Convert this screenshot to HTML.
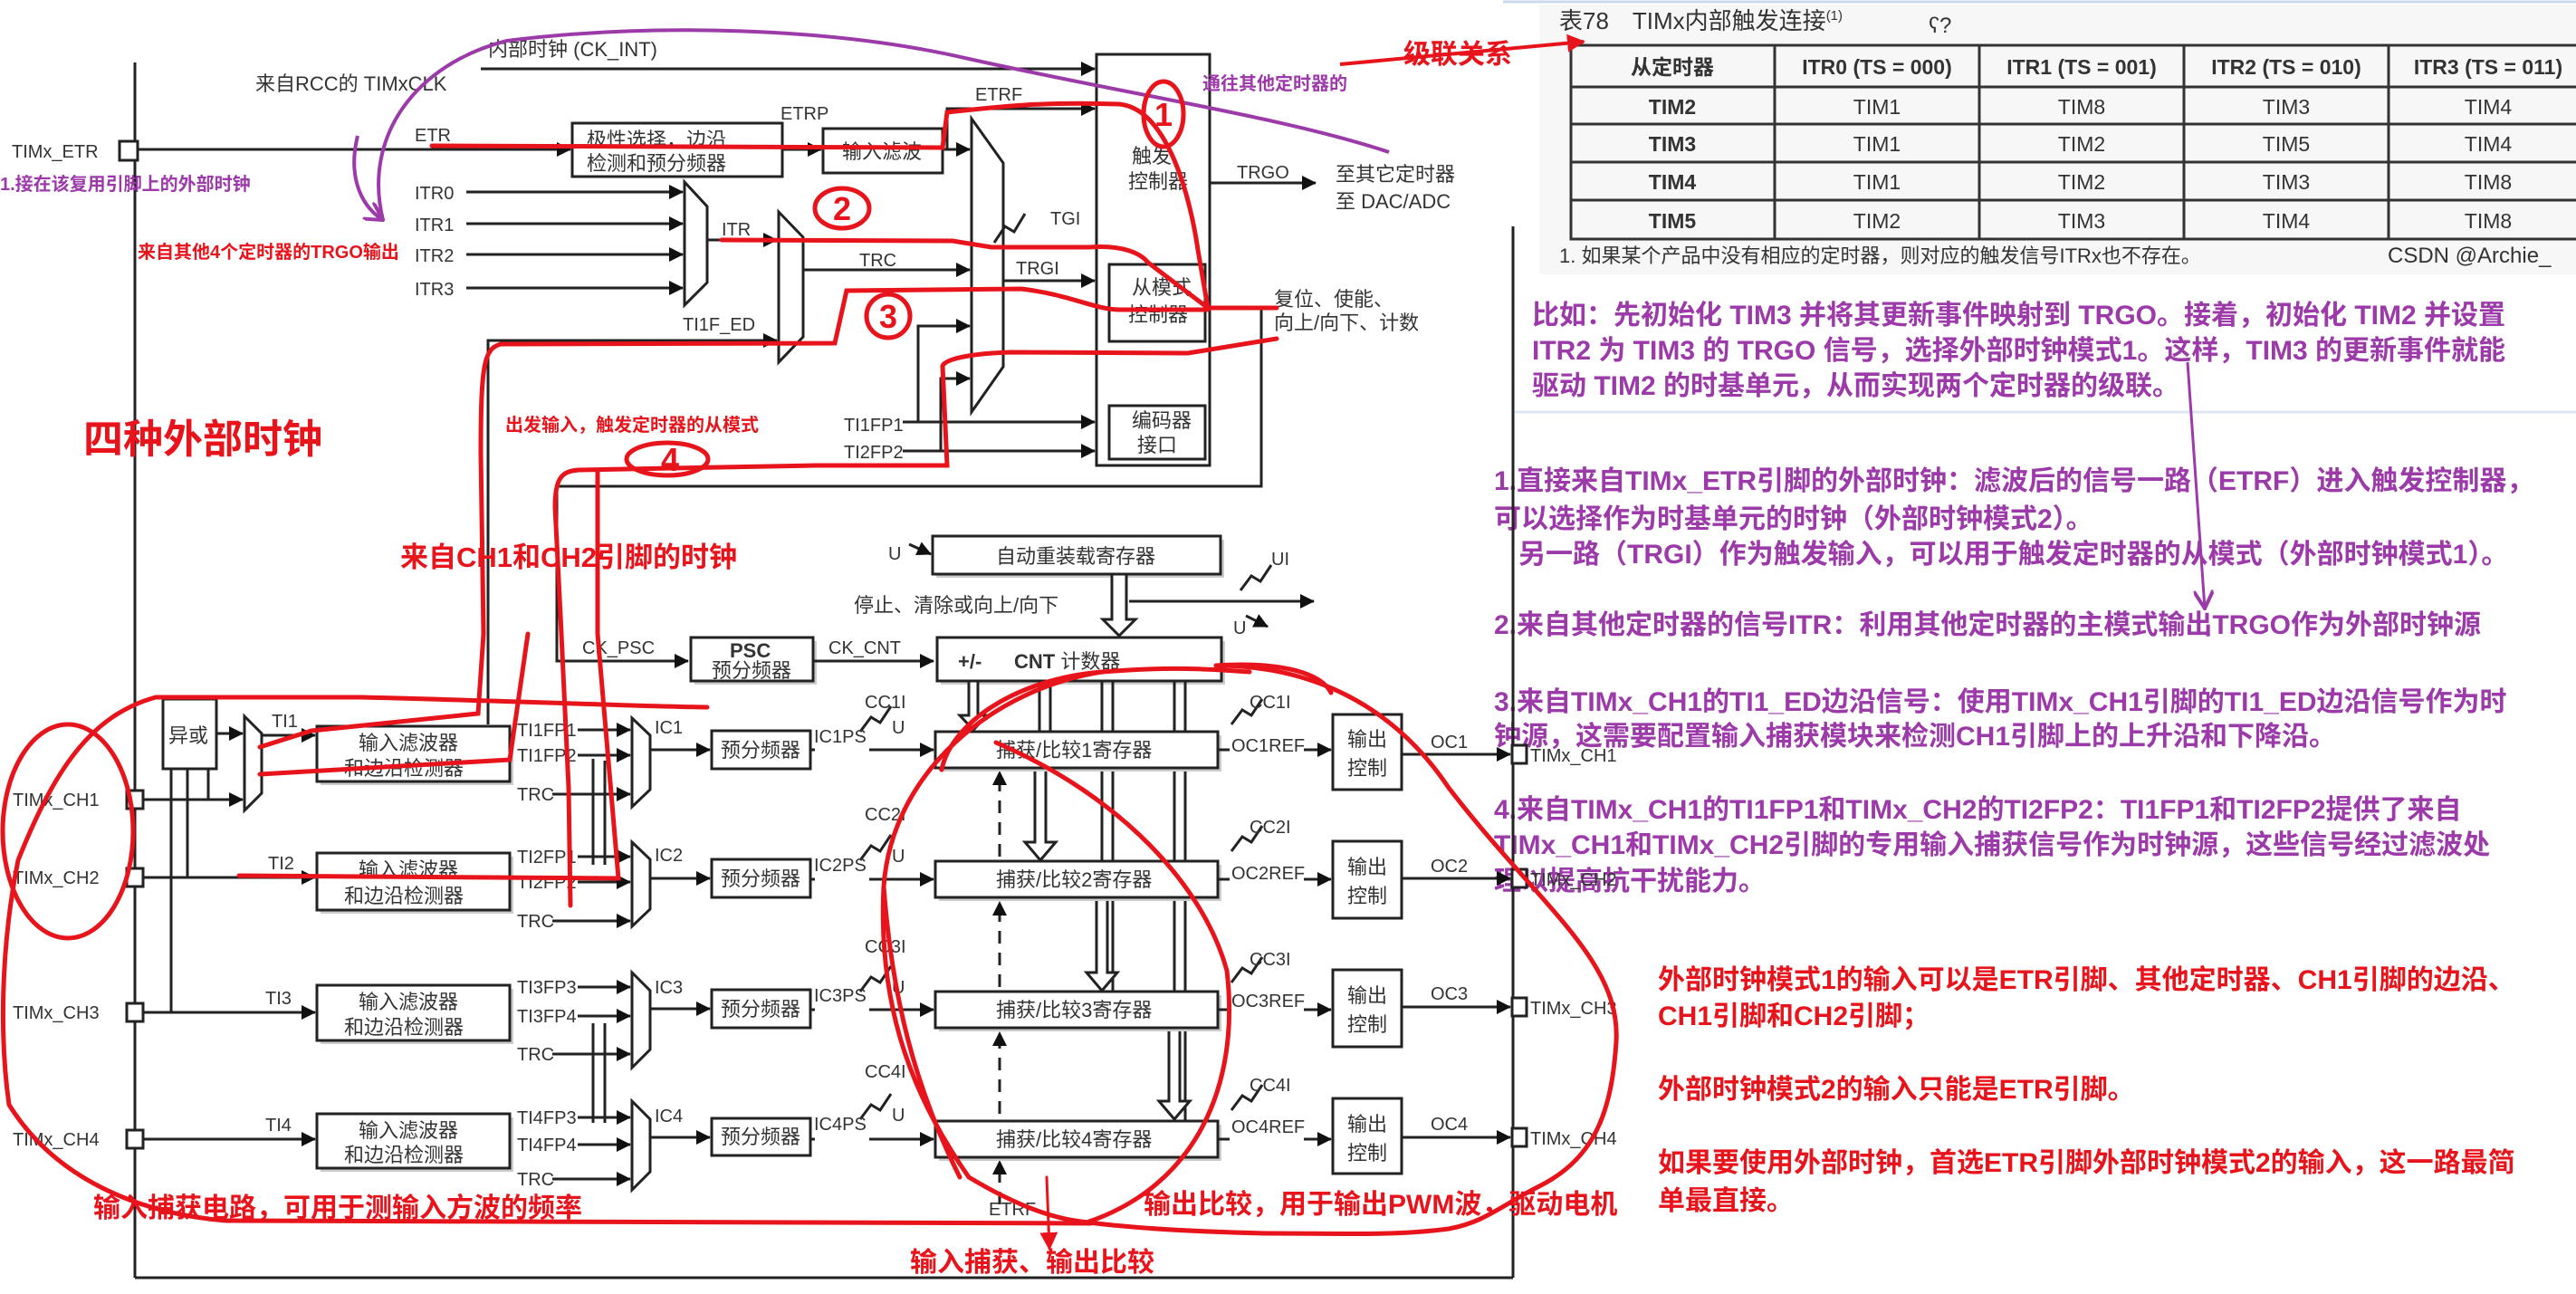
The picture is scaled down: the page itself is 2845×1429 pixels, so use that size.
<!DOCTYPE html>
<html><head><meta charset="utf-8"><style>
html,body{margin:0;padding:0;background:#fff;}
svg{display:block;}
.t{font-family:"Liberation Sans","Noto Sans CJK SC",sans-serif;fill:#333;}
.s{font-size:20px;}
.b{font-size:22px;}
.p{font-family:"Liberation Sans","Noto Sans CJK SC",sans-serif;fill:#9b3aa8;font-weight:bold;}
.r{font-family:"Liberation Sans","Noto Sans CJK SC",sans-serif;fill:#e8141c;font-weight:bold;}
</style></head><body>
<svg width="2845" height="1429" viewBox="0 0 2845 1429" xmlns="http://www.w3.org/2000/svg">
<defs>
<marker id="a" markerUnits="userSpaceOnUse" markerWidth="16" markerHeight="16" refX="15" refY="8" orient="auto"><path d="M0,0 L16,8 L0,16 z" fill="#111"/></marker>
<marker id="pa" markerUnits="userSpaceOnUse" markerWidth="22" markerHeight="22" refX="20" refY="11" orient="auto"><path d="M0,0 L20,11 L0,22" fill="none" stroke="#9b3aa8" stroke-width="4"/></marker>
<marker id="ra" markerUnits="userSpaceOnUse" markerWidth="20" markerHeight="20" refX="18" refY="10" orient="auto"><path d="M0,0 L20,10 L0,20 z" fill="#e8141c"/></marker>
</defs>
<rect width="2845" height="1429" fill="#fff"/>

<!-- right panel table -->
<rect x="1700" y="5" width="1145" height="298" fill="#f7f7f7"/>
<line x1="1660" y1="2" x2="2845" y2="2" stroke="#c9d8ec" stroke-width="3"/>
<line x1="1673" y1="455" x2="2845" y2="455" stroke="#dde6f0" stroke-width="3"/>
<text class="t" x="1722" y="32" font-size="26">表78　TIMx内部触发连接<tspan font-size="15" dy="-10">(1)</tspan></text>
<text class="t" x="2130" y="36" font-size="24">ʕ?</text>
<g stroke="#333" stroke-width="3" fill="none">
<rect x="1735" y="50" width="1115" height="214"/>
<line x1="1735" y1="96" x2="2845" y2="96"/><line x1="1735" y1="137" x2="2845" y2="137"/><line x1="1735" y1="179" x2="2845" y2="179"/><line x1="1735" y1="221" x2="2845" y2="221"/>
<line x1="1960" y1="50" x2="1960" y2="264"/><line x1="2186" y1="50" x2="2186" y2="264"/><line x1="2412" y1="50" x2="2412" y2="264"/><line x1="2638" y1="50" x2="2638" y2="264"/>
</g>
<g class="t" font-size="23" text-anchor="middle" font-weight="bold" fill="#222">
<text x="1847" y="82">从定时器</text><text x="2073" y="82">ITR0 (TS = 000)</text><text x="2299" y="82">ITR1 (TS = 001)</text><text x="2525" y="82">ITR2 (TS = 010)</text><text x="2748" y="82">ITR3 (TS = 011)</text>
<text x="1847" y="126">TIM2</text><text x="1847" y="167">TIM3</text><text x="1847" y="209">TIM4</text><text x="1847" y="252">TIM5</text>
</g>
<g class="t" font-size="23" text-anchor="middle" fill="#222">
<text x="2073" y="126">TIM1</text><text x="2299" y="126">TIM8</text><text x="2525" y="126">TIM3</text><text x="2748" y="126">TIM4</text>
<text x="2073" y="167">TIM1</text><text x="2299" y="167">TIM2</text><text x="2525" y="167">TIM5</text><text x="2748" y="167">TIM4</text>
<text x="2073" y="209">TIM1</text><text x="2299" y="209">TIM2</text><text x="2525" y="209">TIM3</text><text x="2748" y="209">TIM8</text>
<text x="2073" y="252">TIM2</text><text x="2299" y="252">TIM3</text><text x="2525" y="252">TIM4</text><text x="2748" y="252">TIM8</text>
</g>
<text class="t" x="1722" y="290" font-size="22">1. 如果某个产品中没有相应的定时器，则对应的触发信号ITRx也不存在。</text>
<text class="t" x="2637" y="290" font-size="24" fill="#aaa">CSDN @Archie_</text>

<g class="p" font-size="30">
<text x="1692" y="358">比如：先初始化 TIM3 并将其更新事件映射到 TRGO。接着，初始化 TIM2 并设置</text>
<text x="1692" y="397">ITR2 为 TIM3 的 TRGO 信号，选择外部时钟模式1。这样，TIM3 的更新事件就能</text>
<text x="1692" y="436">驱动 TIM2 的时基单元，从而实现两个定时器的级联。</text>
</g>
<line x1="2416" y1="400" x2="2435" y2="672" stroke="#9b3aa8" stroke-width="3" marker-end="url(#pa)"/>
<g class="p" font-size="30">
<text x="1650" y="541">1.直接来自TIMx_ETR引脚的外部时钟：滤波后的信号一路（ETRF）进入触发控制器，</text>
<text x="1650" y="583">可以选择作为时基单元的时钟（外部时钟模式2）。</text>
<text x="1677" y="622">另一路（TRGI）作为触发输入，可以用于触发定时器的从模式（外部时钟模式1）。</text>
<text x="1650" y="700">2.来自其他定时器的信号ITR：利用其他定时器的主模式输出TRGO作为外部时钟源</text>
<text x="1650" y="785">3.来自TIMx_CH1的TI1_ED边沿信号：使用TIMx_CH1引脚的TI1_ED边沿信号作为时</text>
<text x="1650" y="823">钟源，这需要配置输入捕获模块来检测CH1引脚上的上升沿和下降沿。</text>
<text x="1650" y="904">4.来自TIMx_CH1的TI1FP1和TIMx_CH2的TI2FP2：TI1FP1和TI2FP2提供了来自</text>
<text x="1650" y="943">TIMx_CH1和TIMx_CH2引脚的专用输入捕获信号作为时钟源，这些信号经过滤波处</text>
<text x="1650" y="983">理以提高抗干扰能力。</text>
</g>
<g class="r" font-size="30">
<text x="1831" y="1092">外部时钟模式1的输入可以是ETR引脚、其他定时器、CH1引脚的边沿、</text>
<text x="1831" y="1132">CH1引脚和CH2引脚；</text>
<text x="1831" y="1213">外部时钟模式2的输入只能是ETR引脚。</text>
<text x="1831" y="1294">如果要使用外部时钟，首选ETR引脚外部时钟模式2的输入，这一路最简</text>
<text x="1831" y="1336">单最直接。</text>
</g>

<!-- diagram frame -->
<g stroke="#222" stroke-width="3" fill="none">
<line x1="149" y1="69" x2="149" y2="1411"/>
<line x1="149" y1="1411" x2="1671" y2="1411"/>
<line x1="1671" y1="250" x2="1671" y2="1411"/>
</g>

<!-- top section -->
<g stroke="#222" stroke-width="3" fill="none">
<line x1="531" y1="76" x2="1209" y2="76" marker-end="url(#a)"/>
<rect x="1211" y="60" width="125" height="454"/>
<rect x="1225" y="292" width="106" height="85"/>
<rect x="1225" y="448" width="106" height="59"/>
<rect x="132" y="156" width="20" height="21" fill="#fff"/>
<line x1="152" y1="165" x2="630" y2="165" marker-end="url(#a)"/>
<rect x="632" y="136" width="232" height="59"/>
<line x1="864" y1="165" x2="907" y2="165" marker-end="url(#a)"/>
<rect x="909" y="142" width="132" height="49"/>
<polyline points="1041,165 1046,165 1046,120 1209,120" marker-end="url(#a)"/>
<line x1="1041" y1="165" x2="1071" y2="165" marker-end="url(#a)"/>
<polygon points="1073,131 1108,180 1108,405 1073,455"/>
<line x1="515" y1="212" x2="754" y2="212" marker-end="url(#a)"/>
<line x1="515" y1="247" x2="754" y2="247" marker-end="url(#a)"/>
<line x1="515" y1="281" x2="754" y2="281" marker-end="url(#a)"/>
<line x1="515" y1="318" x2="754" y2="318" marker-end="url(#a)"/>
<polygon points="756,201 781,228 781,312 756,337"/>
<line x1="781" y1="265" x2="858" y2="265" marker-end="url(#a)"/>
<polygon points="860,234 887,262 887,372 860,400"/>
<line x1="887" y1="298" x2="1071" y2="298" marker-end="url(#a)"/>
<line x1="1108" y1="310" x2="1209" y2="310" marker-end="url(#a)"/>
<polyline points="1098,268 1110,250 1120,256 1132,236"/>
<polyline points="539,800 539,376 858,376" marker-end="url(#a)"/>
<polyline points="1014,466 1014,360 1071,360" marker-end="url(#a)"/>
<polyline points="1039,498 1039,418 1071,418" marker-end="url(#a)"/>
<line x1="997" y1="466" x2="1209" y2="466" marker-end="url(#a)"/>
<line x1="997" y1="498" x2="1209" y2="498" marker-end="url(#a)"/>
<line x1="1336" y1="202" x2="1453" y2="202" marker-end="url(#a)"/>
<polyline points="1331,340 1393,340 1393,537 615,537 615,730 760,730" marker-end="url(#a)"/>
</g>
<g class="t s">
<text x="539" y="62" font-size="22">内部时钟 (CK_INT)</text>
<text x="282" y="100" font-size="22">来自RCC的 TIMxCLK</text>
<text x="13" y="174">TIMx_ETR</text>
<text x="458" y="156">ETR</text>
<text x="862" y="132">ETRP</text>
<text x="1077" y="111">ETRF</text>
<text x="458" y="220">ITR0</text><text x="458" y="255">ITR1</text><text x="458" y="289">ITR2</text><text x="458" y="326">ITR3</text>
<text x="797" y="260">ITR</text>
<text x="949" y="294">TRC</text>
<text x="1160" y="248">TGI</text>
<text x="1122" y="303">TRGI</text>
<text x="754" y="365">TI1F_ED</text>
<text x="932" y="476">TI1FP1</text><text x="932" y="506">TI2FP2</text>
<text x="1366" y="197">TRGO</text>
</g>
<g class="t b">
<text x="648" y="162">极性选择，边沿</text><text x="648" y="188">检测和预分频器</text>
<text x="930" y="175">输入滤波</text>
<text x="1250" y="180">触发</text><text x="1246" y="208">控制器</text>
<text x="1250" y="325">从模式</text><text x="1246" y="355">控制器</text>
<text x="1250" y="472">编码器</text><text x="1256" y="499">接口</text>
<text x="1475" y="200">至其它定时器</text><text x="1475" y="230">至 DAC/ADC</text>
<text x="1407" y="338">复位、使能、</text><text x="1407" y="364">向上/向下、计数</text>
</g>

<!-- middle -->
<g stroke="#222" stroke-width="3" fill="none">
<rect x="1034" y="596" width="318" height="42" fill="#ccc" stroke="none"/>
<rect x="1030" y="592" width="318" height="42" fill="#fff"/>
<rect x="767" y="708" width="135" height="48" fill="#ccc" stroke="none"/>
<rect x="763" y="704" width="135" height="48" fill="#fff"/>
<line x1="898" y1="730" x2="1031" y2="730" marker-end="url(#a)"/>
<rect x="1039" y="708" width="314" height="48" fill="#ccc" stroke="none"/>
<rect x="1035" y="704" width="314" height="48" fill="#fff"/>
<polygon points="1228,634 1244,634 1244,684 1254,684 1236,702 1218,684 1228,684" fill="#fff"/>
<line x1="1247" y1="664" x2="1451" y2="664" marker-end="url(#a)"/>
<polyline points="1370,652 1382,636 1392,642 1404,624"/>
<line x1="1004" y1="601" x2="1028" y2="612" marker-end="url(#a)"/>
<line x1="1376" y1="680" x2="1400" y2="692" marker-end="url(#a)"/>
<line x1="1104" y1="1330" x2="1104" y2="1282" stroke-dasharray="14,10" marker-end="url(#a)"/>
<line x1="1104" y1="1230" x2="1104" y2="1140" stroke-dasharray="14,10" marker-end="url(#a)"/>
<line x1="1104" y1="1090" x2="1104" y2="996" stroke-dasharray="14,10" marker-end="url(#a)"/>
<line x1="1104" y1="946" x2="1104" y2="852" stroke-dasharray="14,10" marker-end="url(#a)"/>
<line x1="1148" y1="752" x2="1148" y2="808"/><line x1="1160" y1="752" x2="1160" y2="808"/>
<line x1="1217" y1="752" x2="1217" y2="1095"/><line x1="1229" y1="752" x2="1229" y2="1095"/>
<line x1="1297" y1="752" x2="1297" y2="1238"/><line x1="1309" y1="752" x2="1309" y2="1238"/>
<polygon points="1070,752 1080,752 1080,790 1090,790 1075,806 1060,790 1070,790" fill="#fff"/>
<polygon points="1143,848 1155,848 1155,930 1166,930 1149,950 1132,930 1143,930" fill="#fff"/>
<polygon points="1211,991 1223,991 1223,1074 1234,1074 1217,1094 1200,1074 1211,1074" fill="#fff"/>
<polygon points="1291,1135 1303,1135 1303,1216 1314,1216 1297,1236 1280,1216 1291,1216" fill="#fff"/>
</g>
<g class="t s">
<text x="981" y="618">U</text>
<text x="1404" y="624">UI</text>
<text x="1362" y="700">U</text>
<text x="643" y="722">CK_PSC</text>
<text x="915" y="722">CK_CNT</text>
<text x="1092" y="1342">ETRF</text>
</g>
<g class="t b">
<text x="1100" y="622">自动重装载寄存器</text>
<text x="943" y="676">停止、清除或向上/向下</text>
<text x="806" y="726" font-weight="bold">PSC</text><text x="786" y="748">预分频器</text>
<text x="1058" y="738" font-weight="bold">+/-</text><text x="1120" y="738"><tspan font-weight="bold">CNT</tspan> 计数器</text>
</g>

<!-- lower channels -->
<g stroke="#222" stroke-width="3" fill="none">
<rect x="140" y="873" width="18" height="20" fill="#fff"/>
<rect x="140" y="959" width="18" height="20" fill="#fff"/>
<rect x="140" y="1108" width="18" height="20" fill="#fff"/>
<rect x="140" y="1248" width="18" height="20" fill="#fff"/>
<rect x="180" y="772" width="59" height="77"/>
<line x1="239" y1="810" x2="268" y2="810" marker-end="url(#a)"/>
<polygon points="270,791 289,810 289,876 270,895"/>
<line x1="158" y1="883" x2="268" y2="883" marker-end="url(#a)"/>
<line x1="189" y1="849" x2="189" y2="1118"/>
<line x1="207" y1="849" x2="207" y2="969"/>
<line x1="230" y1="849" x2="230" y2="883"/>
<line x1="289" y1="812" x2="348" y2="812" marker-end="url(#a)"/>
<line x1="158" y1="969" x2="348" y2="969" marker-end="url(#a)"/>
<line x1="158" y1="1118" x2="348" y2="1118" marker-end="url(#a)"/>
<line x1="158" y1="1258" x2="348" y2="1258" marker-end="url(#a)"/>
<line x1="655" y1="838" x2="655" y2="955"/><line x1="668" y1="955" x2="668" y2="840"/>
<line x1="655" y1="1130" x2="655" y2="1240"/><line x1="668" y1="1240" x2="668" y2="1130"/>
</g>
<g class="t s">
<text x="14" y="890">TIMx_CH1</text><text x="14" y="976">TIMx_CH2</text><text x="14" y="1125">TIMx_CH3</text><text x="14" y="1265">TIMx_CH4</text>
<text x="300" y="803">TI1</text><text x="296" y="960">TI2</text><text x="293" y="1109">TI3</text><text x="293" y="1249">TI4</text>
</g>
<text class="t b" x="186" y="820">异或</text>

<g stroke="#222" stroke-width="3" fill="none">
<rect x="354" y="806" width="213" height="61" fill="#ccc" stroke="none"/><rect x="350" y="802" width="213" height="61" fill="#fff"/>
<rect x="354" y="946" width="213" height="63" fill="#ccc" stroke="none"/><rect x="350" y="942" width="213" height="63" fill="#fff"/>
<rect x="354" y="1092" width="213" height="61" fill="#ccc" stroke="none"/><rect x="350" y="1088" width="213" height="61" fill="#fff"/>
<rect x="354" y="1234" width="213" height="60" fill="#ccc" stroke="none"/><rect x="350" y="1230" width="213" height="60" fill="#fff"/>

<line x1="638" y1="806" x2="696" y2="806" marker-end="url(#a)"/><line x1="638" y1="834" x2="696" y2="834" marker-end="url(#a)"/><line x1="610" y1="877" x2="696" y2="877" marker-end="url(#a)"/>
<polygon points="698,793 718,812 718,872 698,891"/>
<line x1="718" y1="828" x2="784" y2="828" marker-end="url(#a)"/>
<line x1="638" y1="946" x2="696" y2="946" marker-end="url(#a)"/><line x1="638" y1="974" x2="696" y2="974" marker-end="url(#a)"/><line x1="610" y1="1017" x2="696" y2="1017" marker-end="url(#a)"/>
<polygon points="698,930 718,949 718,1004 698,1023"/>
<line x1="718" y1="970" x2="784" y2="970" marker-end="url(#a)"/>
<line x1="638" y1="1090" x2="696" y2="1090" marker-end="url(#a)"/><line x1="638" y1="1122" x2="696" y2="1122" marker-end="url(#a)"/><line x1="610" y1="1164" x2="696" y2="1164" marker-end="url(#a)"/>
<polygon points="698,1074 718,1094 718,1159 698,1179"/>
<line x1="718" y1="1114" x2="784" y2="1114" marker-end="url(#a)"/>
<line x1="638" y1="1234" x2="696" y2="1234" marker-end="url(#a)"/><line x1="638" y1="1264" x2="696" y2="1264" marker-end="url(#a)"/><line x1="610" y1="1302" x2="696" y2="1302" marker-end="url(#a)"/>
<polygon points="698,1216 718,1236 718,1294 698,1314"/>
<line x1="718" y1="1256" x2="784" y2="1256" marker-end="url(#a)"/>

<rect x="786" y="807" width="109" height="42"/><rect x="786" y="949" width="109" height="42"/><rect x="786" y="1093" width="109" height="42"/><rect x="786" y="1235" width="109" height="41"/>
<line x1="960" y1="828" x2="1031" y2="828" marker-end="url(#a)"/>
<line x1="960" y1="971" x2="1031" y2="971" marker-end="url(#a)"/>
<line x1="960" y1="1115" x2="1031" y2="1115" marker-end="url(#a)"/>
<line x1="960" y1="1258" x2="1031" y2="1258" marker-end="url(#a)"/>
<line x1="895" y1="828" x2="900" y2="828"/><line x1="895" y1="971" x2="900" y2="971"/><line x1="895" y1="1115" x2="900" y2="1115"/><line x1="895" y1="1258" x2="900" y2="1258"/>

<rect x="1037" y="812" width="312" height="40" fill="#ccc" stroke="none"/><rect x="1033" y="808" width="312" height="40" fill="#fff"/>
<rect x="1037" y="955" width="312" height="40" fill="#ccc" stroke="none"/><rect x="1033" y="951" width="312" height="40" fill="#fff"/>
<rect x="1037" y="1099" width="312" height="40" fill="#ccc" stroke="none"/><rect x="1033" y="1095" width="312" height="40" fill="#fff"/>
<rect x="1037" y="1242" width="312" height="40" fill="#ccc" stroke="none"/><rect x="1033" y="1238" width="312" height="40" fill="#fff"/>

<line x1="1440" y1="828" x2="1470" y2="828" marker-end="url(#a)"/><line x1="1345" y1="828" x2="1358" y2="828"/>
<line x1="1440" y1="971" x2="1470" y2="971" marker-end="url(#a)"/><line x1="1345" y1="971" x2="1358" y2="971"/>
<line x1="1440" y1="1115" x2="1470" y2="1115" marker-end="url(#a)"/><line x1="1345" y1="1115" x2="1358" y2="1115"/>
<line x1="1440" y1="1258" x2="1470" y2="1258" marker-end="url(#a)"/><line x1="1345" y1="1258" x2="1358" y2="1258"/>
<rect x="1472" y="789" width="76" height="83"/><rect x="1472" y="929" width="76" height="85"/><rect x="1472" y="1071" width="76" height="85"/><rect x="1472" y="1213" width="76" height="83"/>
<line x1="1548" y1="833" x2="1668" y2="833" marker-end="url(#a)"/>
<line x1="1548" y1="970" x2="1668" y2="970" marker-end="url(#a)"/>
<line x1="1548" y1="1112" x2="1668" y2="1112" marker-end="url(#a)"/>
<line x1="1548" y1="1256" x2="1668" y2="1256" marker-end="url(#a)"/>
<rect x="1670" y="823" width="16" height="20" fill="#fff"/><rect x="1670" y="960" width="16" height="20" fill="#fff"/><rect x="1670" y="1102" width="16" height="20" fill="#fff"/><rect x="1670" y="1246" width="16" height="20" fill="#fff"/>
<polyline points="950,808 962,792 972,798 984,780"/><polyline points="950,950 962,934 972,940 984,922"/><polyline points="950,1095 962,1079 972,1085 984,1067"/><polyline points="950,1236 962,1220 972,1226 984,1208"/>
<polyline points="1360,800 1372,784 1382,790 1394,772"/><polyline points="1360,940 1372,924 1382,930 1394,912"/><polyline points="1360,1085 1372,1069 1382,1075 1394,1057"/><polyline points="1360,1226 1372,1210 1382,1216 1394,1198"/>
</g>
<g class="t s">
<text x="571" y="813">TI1FP1</text><text x="571" y="841">TI1FP2</text><text x="571" y="884">TRC</text>
<text x="571" y="953">TI2FP1</text><text x="571" y="981">TI2FP2</text><text x="571" y="1024">TRC</text>
<text x="571" y="1097">TI3FP3</text><text x="571" y="1129">TI3FP4</text><text x="571" y="1171">TRC</text>
<text x="571" y="1241">TI4FP3</text><text x="571" y="1271">TI4FP4</text><text x="571" y="1309">TRC</text>
<text x="723" y="810">IC1</text><text x="723" y="951">IC2</text><text x="723" y="1097">IC3</text><text x="723" y="1239">IC4</text>
<text x="899" y="820">IC1PS</text><text x="899" y="962">IC2PS</text><text x="899" y="1106">IC3PS</text><text x="899" y="1248">IC4PS</text>
<text x="955" y="782">CC1I</text><text x="955" y="906">CC2I</text><text x="955" y="1052">CC3I</text><text x="955" y="1190">CC4I</text>
<text x="985" y="810">U</text><text x="985" y="952">U</text><text x="985" y="1097">U</text><text x="985" y="1238">U</text>
<text x="1380" y="782">CC1I</text><text x="1380" y="920">CC2I</text><text x="1380" y="1066">CC3I</text><text x="1380" y="1205">CC4I</text>
<text x="1360" y="830">OC1REF</text><text x="1360" y="971">OC2REF</text><text x="1360" y="1112">OC3REF</text><text x="1360" y="1251">OC4REF</text>
<text x="1580" y="826">OC1</text><text x="1580" y="963">OC2</text><text x="1580" y="1104">OC3</text><text x="1580" y="1248">OC4</text>
<text x="1690" y="841">TIMx_CH1</text><text x="1690" y="978">TIMx_CH2</text><text x="1690" y="1120">TIMx_CH3</text><text x="1690" y="1264">TIMx_CH4</text>
</g>
<g class="t b">
<text x="396" y="828">输入滤波器</text><text x="380" y="856">和边沿检测器</text>
<text x="396" y="968">输入滤波器</text><text x="380" y="997">和边沿检测器</text>
<text x="396" y="1114">输入滤波器</text><text x="380" y="1142">和边沿检测器</text>
<text x="396" y="1256">输入滤波器</text><text x="380" y="1283">和边沿检测器</text>
<text x="796" y="836">预分频器</text><text x="796" y="978">预分频器</text><text x="796" y="1122">预分频器</text><text x="796" y="1263">预分频器</text>
<text x="1100" y="836">捕获/比较1寄存器</text><text x="1100" y="979">捕获/比较2寄存器</text><text x="1100" y="1123">捕获/比较3寄存器</text><text x="1100" y="1266">捕获/比较4寄存器</text>
<text x="1488" y="824">输出</text><text x="1488" y="856">控制</text>
<text x="1488" y="965">输出</text><text x="1488" y="997">控制</text>
<text x="1488" y="1107">输出</text><text x="1488" y="1139">控制</text>
<text x="1488" y="1249">输出</text><text x="1488" y="1281">控制</text>
</g>

<!-- annotations -->
<path d="M423,243 C400,150 460,70 560,45 C720,25 920,30 1070,65 C1250,105 1420,130 1534,168" fill="none" stroke="#9b3aa8" stroke-width="4"/>
<path d="M395,150 C385,190 395,225 423,243" fill="none" stroke="#9b3aa8" stroke-width="4" marker-end="url(#pa)"/>
<text class="p" x="1328" y="99" font-size="20">通往其他定时器的</text>
<text class="p" x="0" y="210" font-size="20">1.接在该复用引脚上的外部时钟</text>
<line x1="1480" y1="71" x2="1749" y2="46" stroke="#e8141c" stroke-width="4" marker-end="url(#ra)"/>
<text class="r" x="1550" y="70" font-size="30">级联关系</text>
<text class="r" x="152" y="285" font-size="20">来自其他4个定时器的TRGO输出</text>
<text class="r" x="92" y="500" font-size="44">四种外部时钟</text>
<text class="r" x="558" y="476" font-size="20">出发输入，触发定时器的从模式</text>
<text class="r" x="442" y="626" font-size="31">来自CH1和CH2引脚的时钟</text>
<text class="r" x="103" y="1344" font-size="30">输入捕获电路，可用于测输入方波的频率</text>
<text class="r" x="1263" y="1340" font-size="30">输出比较，用于输出PWM波，驱动电机</text>
<text class="r" x="1005" y="1404" font-size="30">输入捕获、输出比较</text>
<g class="r" font-weight="normal" font-size="36" text-anchor="middle">
<text x="1285" y="139">1</text>
<text x="930" y="243">2</text>
<text x="981" y="362">3</text>
<text x="740" y="520">4</text>
</g>

<g fill="none" stroke="#e8141c" stroke-width="5" stroke-linecap="round">
<ellipse cx="1285" cy="126" rx="22" ry="36"/>
<ellipse cx="930" cy="230" rx="30" ry="22"/>
<ellipse cx="981" cy="349" rx="24" ry="24"/>
<ellipse cx="737" cy="507" rx="45" ry="18"/>
<path d="M477,161 L1041,163 L1046,124 C1100,118 1150,112 1236,115 C1290,120 1315,220 1323,276 L1334,340 L1410,340"/>
<path d="M797,265 L1052,266 L1095,273 L1203,273 C1240,270 1260,280 1268,290 L1334,340"/>
<path d="M553,380 L922,379 L935,321 L1128,319 C1180,325 1210,342 1236,342 L1334,342"/>
<path d="M1410,374 L1312,390 L1117,389 C1080,390 1045,395 1041,404 L1046,514 L900,514 L640,519 C620,520 613,528 613,560 L620,700 L628,870 L630,1000"/>
<path d="M553,380 C535,385 531,400 531,500 L534,700 L528,788 L344,807 L287,825"/>
<path d="M583,700 L563,839 L287,855"/>
<path d="M660,520 C660,560 660,650 660,700 L683,970 L264,967"/>
<ellipse cx="75" cy="918" rx="72" ry="118"/>
<path d="M781,781 C700,780 600,775 400,770 L172,770 C100,790 60,850 20,950 C0,1050 0,1150 10,1220 C60,1300 150,1340 250,1348 C500,1350 800,1352 1205,1351"/>
<path d="M1343,735 C1420,730 1460,745 1470,765"/>
<path d="M1343,735 C1450,735 1540,780 1600,870 C1700,1000 1790,1060 1785,1150 C1780,1230 1760,1280 1700,1310 C1660,1330 1640,1350 1600,1357 C1540,1365 1480,1362 1400,1362 C1300,1360 1240,1355 1194,1349 C1160,1345 1120,1330 1070,1300 C1000,1200 970,1100 976,979 C985,850 1100,760 1217,742 C1300,735 1350,740 1380,742"/>
<path d="M1217,742 C1120,750 1050,800 1040,850"/>
<path d="M976,979 C985,1100 1010,1200 1060,1300"/>
<path d="M1100,820 C1240,880 1330,980 1355,1072 C1370,1200 1320,1310 1200,1350"/>
<line x1="1156" y1="1300" x2="1159" y2="1379" marker-end="url(#ra)" stroke-width="3"/>
</g>
</svg>
</body></html>
